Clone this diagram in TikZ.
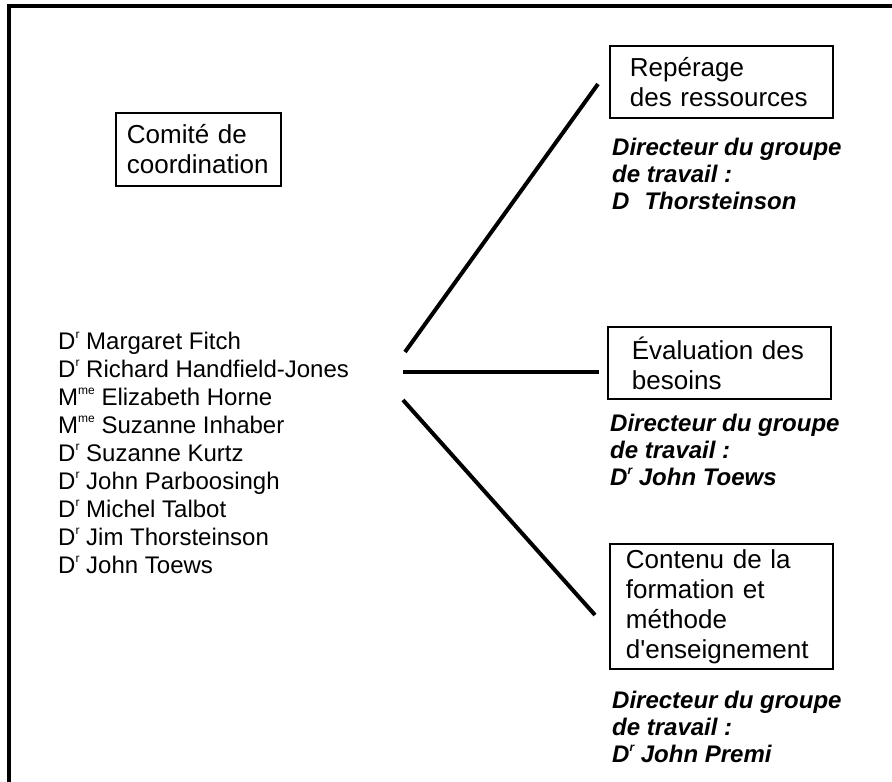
\documentclass[tikz,border=0pt]{standalone}
\usepackage{fontspec}
\setmainfont{Liberation Sans}
\newcommand{\mysup}[1]{\raisebox{10.5pt}{\fontsize{12}{12}\selectfont #1}}
\begin{document}
\begin{tikzpicture}[x=1pt,y=-1pt,
  boxnode/.style={draw, line width=1.8pt, anchor=north west, inner ysep=0pt, align=left, font=\fontsize{26}{30}\selectfont},
  dirnode/.style={anchor=base west, inner sep=0pt, align=left, font=\fontsize{24}{27}\selectfont\bfseries\itshape},
  listnode/.style={anchor=base west, inner sep=0pt, align=left, font=\fontsize{24}{28}\selectfont},
  link/.style={line width=4pt},
  framestyle/.style={line width=4pt, line join=miter}]
\useasboundingbox (0,0) rectangle (892,782);
% frame
\coordinate (fBL) at (9,782);
\coordinate (fTL) at (9,6);
\coordinate (fTR) at (892,6);
\draw[framestyle] (fBL) -- (fTL) -- (fTR);
% boxes
\node[boxnode, minimum width=165pt, minimum height=73pt, inner xsep=11pt, text width=143pt] (comite) at (115,112) {Comité de\\coordination};
\node[boxnode, minimum width=223pt, minimum height=72pt, inner xsep=20pt, text width=183pt] (reperage) at (609,45) {Repérage\\des ressources};
\node[boxnode, minimum width=223pt, minimum height=72pt, inner xsep=24pt, text width=175pt] (evaluation) at (607,326) {Évaluation des\\besoins};
\node[boxnode, minimum width=223pt, minimum height=125pt, inner xsep=16pt, text width=191pt] (contenu) at (609,543) {Contenu de la\\formation et\\méthode\\d\textquotesingle enseignement};
% directors (anchor = baseline of last line)
\node[dirnode] (dirR) at (612,209) {Directeur du groupe\\de travail :\\D\hspace{15pt}Thorsteinson};
\node[dirnode] (dirE) at (610,485) {Directeur du groupe\\de travail :\\D\mysup{r} John Toews};
\node[dirnode] (dirC) at (612,762) {Directeur du groupe\\de travail :\\D\mysup{r} John Premi};
% members
\node[listnode] (members) at (58,573) {D\mysup{r} Margaret Fitch\\
D\mysup{r} Richard Handfield-Jones\\
M\mysup{me} Elizabeth Horne\\
M\mysup{me} Suzanne Inhaber\\
D\mysup{r} Suzanne Kurtz\\
D\mysup{r} John Parboosingh\\
D\mysup{r} Michel Talbot\\
D\mysup{r} Jim Thorsteinson\\
D\mysup{r} John Toews};
% connectors
\coordinate (hubU) at (405,352);
\coordinate (hubM) at (403,372);
\coordinate (hubL) at (403,400);
\coordinate (endU) at (598,84);
\coordinate (endM) at (599,372);
\coordinate (endL) at (595,615);
\draw[link] (hubU) -- (endU);
\draw[link] (hubM) -- (endM);
\draw[link] (hubL) -- (endL);
\end{tikzpicture}
\end{document}
